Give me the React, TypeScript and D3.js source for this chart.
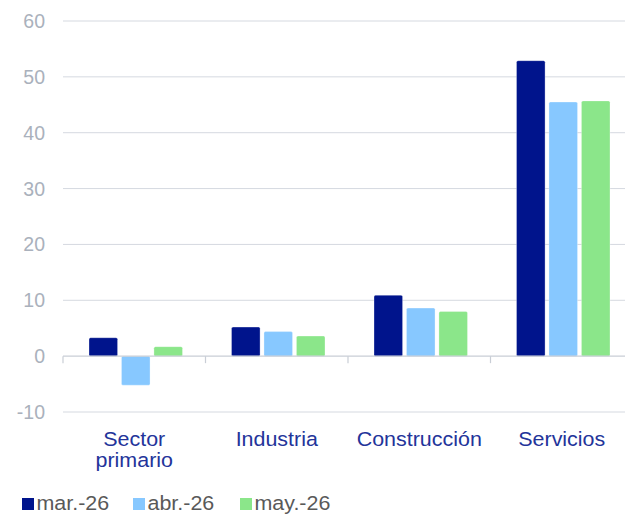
import React from 'react';
import * as d3 from 'd3';

const categories = [['Sector', 'primario'], ['Industria'], ['Construcción'], ['Servicios']];
const seriesNames = ['mar.-26', 'abr.-26', 'may.-26'];
const colors = ['#00148c', '#87c8ff', '#8be68a'];
const mar26 = [3.3, 5.2, 10.9, 52.9];
const abr26 = [-5.2, 4.4, 8.6, 45.5];
const may26 = [1.7, 3.6, 8.0, 45.7];
const yTicks = [-10, 0, 10, 20, 30, 40, 50, 60];

const series = [mar26, abr26, may26];

export default function App() {
  const width = 625;
  const height = 515;
  const x0 = 63;
  const x1 = 633;

  const y = d3.scaleLinear().domain([-10, 60]).range([412, 21]);
  const x = d3.scaleBand<number>().domain(d3.range(categories.length)).range([x0, x1]);
  const inner = d3.scaleBand<number>().domain(d3.range(series.length))
    .range([26, x.bandwidth() - 23]).paddingInner(0.12);

  return (
    <svg width={width} height={height} style={{ position: 'absolute', left: 0, top: 0 }}
      fontFamily="Liberation Sans, Arial, sans-serif">
      {yTicks.map(t => (
        <g key={t}>
          {t !== 0 && <line x1={x0} x2={width} y1={y(t)} y2={y(t)} stroke="#d5d9e0" strokeWidth={1} />}
          <text x={45} y={y(t)} dy="0.36em" textAnchor="end" fontSize={19.5} fill="#aab1bc">{t}</text>
        </g>
      ))}
      {categories.map((c, i) => (
        <g key={i} transform={`translate(${x(i)},0)`}>
          {series.map((s, j) => {
            const v = s[i];
            return (
              <rect key={j} x={inner(j)} width={inner.bandwidth()}
                y={y(Math.max(0, v))} height={Math.abs(y(v) - y(0))}
                rx={1.5} fill={colors[j]} stroke="#ffffff" strokeOpacity={0.5} strokeWidth={0.6} />
            );
          })}
          <g transform={`translate(${x.bandwidth() / 2},446) scale(1.1,1)`}>
            <text textAnchor="middle" fontSize={19.5} fill="#23349a">
              {c.map((line, k) => (
                <tspan key={k} x={0} dy={k === 0 ? 0 : 21}>{line}</tspan>
              ))}
            </text>
          </g>
        </g>
      ))}
      <line x1={x0} x2={width} y1={y(0)} y2={y(0)} stroke="#c9ced6" strokeWidth={1.2} />
      {d3.range(categories.length + 1).map(i => (
        <line key={i} x1={x0 + i * x.bandwidth()} x2={x0 + i * x.bandwidth()}
          y1={y(0)} y2={y(0) + 7} stroke="#c9ced6" strokeWidth={1.2} />
      ))}
      {seriesNames.map((n, j) => {
        const lx = [22, 133, 240][j];
        return (
          <g key={n} transform={`translate(${lx},510)`}>
            <rect x={0} y={-12} width={12} height={12} fill={colors[j]} />
            <g transform="translate(14.5,0) scale(1.1,1)">
              <text x={0} y={0} fontSize={19.5} fill="#595959">{n}</text>
            </g>
          </g>
        );
      })}
    </svg>
  );
}
